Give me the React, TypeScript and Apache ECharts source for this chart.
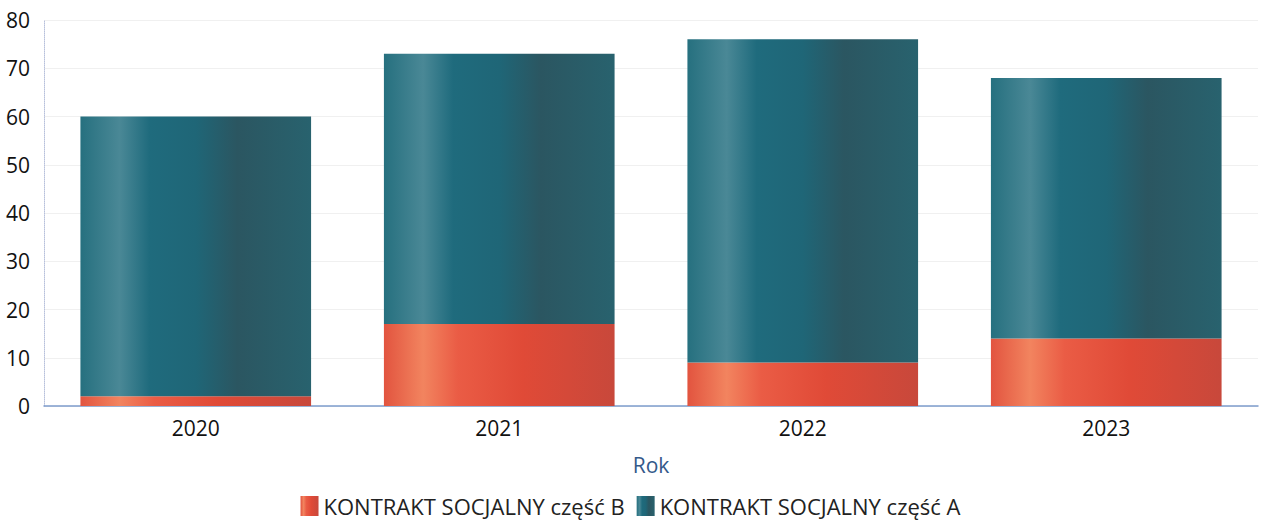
import React, { useEffect, useRef } from "react";
import * as echarts from "echarts";

const categories = ["2020", "2021", "2022", "2023"];
const seriesBName = "KONTRAKT SOCJALNY część B";
const seriesAName = "KONTRAKT SOCJALNY część A";
const seriesB = [2, 17, 9, 14];
const seriesA = [58, 56, 67, 54];
const yTicks = [0, 10, 20, 30, 40, 50, 60, 70, 80];

const tealGrad = new echarts.graphic.LinearGradient(0, 0, 1, 0, [
  { offset: 0, color: "#26707f" },
  { offset: 0.17, color: "#4a8896" },
  { offset: 0.3, color: "#1f6b7d" },
  { offset: 0.5, color: "#1f6677" },
  { offset: 0.68, color: "#2b5661" },
  { offset: 1, color: "#28626e" },
]);
const redGrad = new echarts.graphic.LinearGradient(0, 0, 1, 0, [
  { offset: 0, color: "#e2543f" },
  { offset: 0.17, color: "#f2845f" },
  { offset: 0.32, color: "#ea5c45" },
  { offset: 0.6, color: "#e04a37" },
  { offset: 1, color: "#c8483b" },
]);

export default function App() {
  const ref = useRef<HTMLDivElement>(null);
  useEffect(() => {
    if (!ref.current) return;
    const chart = echarts.init(ref.current, null, { renderer: "svg" });
    chart.setOption({
      animation: false,
      textStyle: { fontFamily: "Open Sans" },
      grid: { left: 44, right: 3, top: 20, bottom: 114, containLabel: false },
      legend: {
        top: 489,
        left: "center",
        itemWidth: 18,
        itemHeight: 20,
        itemGap: 12,
        icon: "rect",
        textStyle: { fontSize: 22, color: "#222", fontFamily: "Open Sans", lineHeight: 24 },
        data: [seriesBName, seriesAName],
      },
      xAxis: {
        type: "category",
        data: categories,
        name: "Rok",
        nameLocation: "middle",
        nameGap: 48,
        nameTextStyle: { fontSize: 21, color: "#34598a", fontFamily: "Open Sans" },
        axisLine: { lineStyle: { color: "#7d9ccc", width: 1.5 } },
        axisTick: { show: false },
        axisLabel: { fontSize: 21, color: "#111", margin: 11 },
      },
      yAxis: {
        type: "value",
        min: yTicks[0],
        max: yTicks[yTicks.length - 1],
        interval: 10,
        axisLine: { show: true, lineStyle: { color: "#b8c0dc", type: "dotted", width: 1 } },
        axisTick: { show: false },
        splitLine: { lineStyle: { color: "#f0f0f0" } },
        axisLabel: { fontSize: 21, color: "#111", margin: 14 },
      },
      series: [
        {
          name: seriesBName,
          type: "bar",
          stack: "total",
          data: seriesB,
          barWidth: "76%",
          itemStyle: { color: redGrad },
        },
        {
          name: seriesAName,
          type: "bar",
          stack: "total",
          data: seriesA,
          barWidth: "76%",
          itemStyle: { color: tealGrad },
        },
      ],
    });
    return () => chart.dispose();
  }, []);
  return (
    <div
      ref={ref}
      style={{ position: "absolute", left: 0, top: 0, width: 1261, height: 520 }}
    />
  );
}
